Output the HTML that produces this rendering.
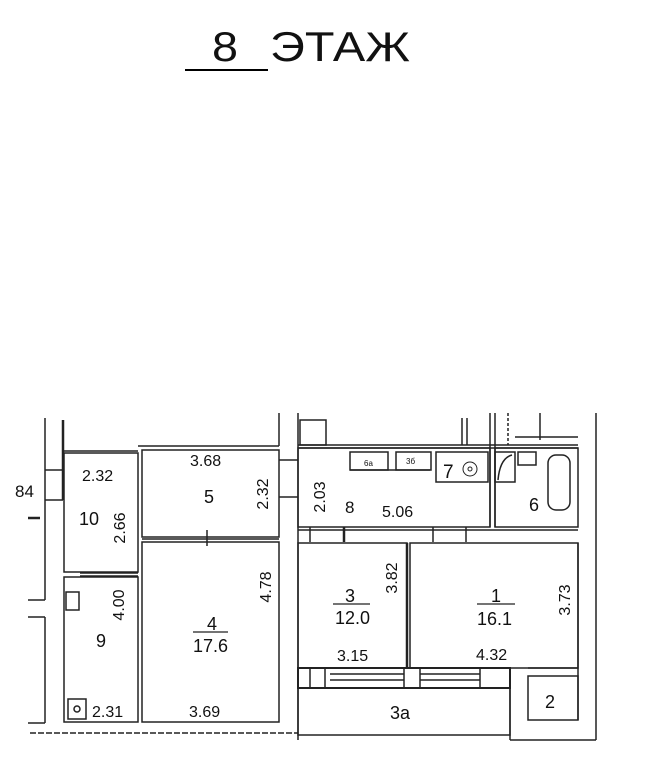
<!DOCTYPE html>
<html><head><meta charset="utf-8"><style>
html,body{margin:0;padding:0;background:#fff;}
svg{display:block;}
text{font-family:"Liberation Sans",sans-serif;fill:#111;}
</style></head><body>
<svg width="657" height="768" viewBox="0 0 657 768" xmlns="http://www.w3.org/2000/svg">
<!-- title -->
<text x="212" y="61" font-size="42" textLength="26" lengthAdjust="spacingAndGlyphs">8</text>
<text x="270" y="61" font-size="42" textLength="140" lengthAdjust="spacingAndGlyphs">ЭТАЖ</text>
<line x1="185" y1="70" x2="268" y2="70" stroke="#000" stroke-width="2"/>

<g fill="none" stroke="#222" stroke-width="1.5">
<line x1="45" y1="418" x2="45" y2="600"/>
<line x1="28" y1="600" x2="45" y2="600"/>
<line x1="45" y1="617" x2="45" y2="723"/>
<line x1="28" y1="617" x2="45" y2="617"/>
<line x1="28" y1="723" x2="45" y2="723"/>
<line x1="63" y1="420" x2="63" y2="500" stroke-width="2.5"/>
<line x1="45" y1="470" x2="63" y2="470"/>
<line x1="45" y1="500" x2="63" y2="500"/>
<line x1="28" y1="518" x2="40" y2="518" stroke-width="2.5"/>
<rect x="64" y="453" width="74" height="119"/>
<line x1="64" y1="451" x2="138" y2="451"/>
<rect x="64" y="577" width="74" height="145"/>
<line x1="80" y1="573" x2="138" y2="573"/>
<line x1="80" y1="576" x2="138" y2="576"/>
<rect x="66" y="592" width="13" height="18"/>
<rect x="68" y="699" width="18" height="20"/>
<circle cx="77" cy="709" r="3"/>
<line x1="138" y1="446" x2="279" y2="446"/>
<rect x="142" y="450" width="137" height="87"/>
<rect x="142" y="542" width="137" height="180"/>
<line x1="142" y1="539" x2="279" y2="539"/>
<line x1="207" y1="530" x2="207" y2="546"/>
<line x1="279" y1="460" x2="298" y2="460"/>
<line x1="279" y1="497" x2="298" y2="497"/>
<line x1="279" y1="413" x2="279" y2="446"/>
<line x1="30" y1="733" x2="298" y2="733" stroke-dasharray="6 2"/>
<line x1="298" y1="413" x2="298" y2="740"/>
<line x1="298" y1="445" x2="578" y2="445"/>
<line x1="298" y1="448" x2="578" y2="448"/>
<rect x="300" y="420" width="26" height="25"/>
<line x1="462" y1="418" x2="462" y2="445"/>
<line x1="467" y1="418" x2="467" y2="445"/>
<line x1="490" y1="413" x2="490" y2="527"/>
<line x1="495" y1="413" x2="495" y2="527"/>
<line x1="508" y1="413" x2="508" y2="445" stroke-dasharray="3 2"/>
<line x1="540" y1="413" x2="540" y2="440"/>
<line x1="515" y1="437" x2="578" y2="437"/>
<rect x="298" y="448" width="192" height="79"/>
<rect x="350" y="452" width="38" height="18"/>
<rect x="396" y="452" width="35" height="18"/>
<line x1="350" y1="470" x2="430" y2="470"/>
<rect x="436" y="452" width="52" height="30"/>
<rect x="495" y="452" width="20" height="30"/>
<path d="M498 480 Q500 458 512 455"/>
<rect x="495" y="448" width="83" height="79"/>
<rect x="518" y="452" width="18" height="13"/>
<rect x="548" y="455" width="22" height="55" rx="8"/>
<line x1="298" y1="530" x2="578" y2="530"/>
<line x1="344" y1="527" x2="344" y2="542" stroke-width="2.5"/>
<line x1="310" y1="527" x2="310" y2="542"/>
<line x1="433" y1="527" x2="433" y2="542"/>
<line x1="466" y1="527" x2="466" y2="542"/>
<rect x="298" y="543" width="109" height="125"/>
<rect x="410" y="543" width="168" height="125"/>
<line x1="407" y1="543" x2="407" y2="668" stroke-width="2.5"/>
<rect x="298" y="668" width="212" height="20" stroke-width="2"/>
<line x1="330" y1="674" x2="404" y2="674"/>
<line x1="330" y1="680" x2="404" y2="680"/>
<line x1="420" y1="674" x2="480" y2="674"/>
<line x1="420" y1="680" x2="480" y2="680"/>
<line x1="310" y1="668" x2="310" y2="688"/>
<line x1="325" y1="668" x2="325" y2="688"/>
<line x1="404" y1="668" x2="404" y2="688"/>
<line x1="420" y1="668" x2="420" y2="688"/>
<line x1="480" y1="668" x2="480" y2="688"/>
<rect x="298" y="688" width="212" height="47"/>
<line x1="510" y1="688" x2="510" y2="740"/>
<line x1="510" y1="740" x2="596" y2="740"/>
<rect x="528" y="676" width="50" height="44"/>
<line x1="528" y1="668" x2="578" y2="668"/>
<line x1="578" y1="543" x2="578" y2="720"/>
<line x1="596" y1="413" x2="596" y2="740"/>
</g>

<g font-size="16">
<text x="82" y="481">2.32</text>
<text x="79" y="525" font-size="18">10</text>
<text x="125" y="528" transform="rotate(-90 125 528)" text-anchor="middle">2.66</text>
<text x="190" y="466">3.68</text>
<text x="204" y="503" font-size="18">5</text>
<text x="268" y="494" transform="rotate(-90 268 494)" text-anchor="middle">2.32</text>
<text x="271" y="587" transform="rotate(-90 271 587)" text-anchor="middle">4.78</text>
<text x="207" y="630" font-size="18">4</text>
<line x1="193" y1="632" x2="228" y2="632" stroke="#222" stroke-width="1.2"/>
<text x="193" y="652" font-size="18">17.6</text>
<text x="189" y="717">3.69</text>
<text x="124" y="605" transform="rotate(-90 124 605)" text-anchor="middle">4.00</text>
<text x="96" y="647" font-size="18">9</text>
<text x="92" y="717">2.31</text>
<text x="15" y="497" font-size="17">84</text>
<text x="325" y="497" transform="rotate(-90 325 497)" text-anchor="middle">2.03</text>
<text x="345" y="513" font-size="17">8</text>
<text x="382" y="517">5.06</text>
<text x="364" y="466" font-size="8">6a</text>
<text x="406" y="464" font-size="8">3б</text>
<text x="443" y="478" font-size="19">7</text>
<circle cx="470" cy="469" r="7" fill="none" stroke="#222"/>
<circle cx="470" cy="469" r="2" fill="none" stroke="#222"/>
<text x="529" y="511" font-size="18">6</text>
<text x="397" y="578" transform="rotate(-90 397 578)" text-anchor="middle">3.82</text>
<text x="345" y="602" font-size="18">3</text>
<line x1="333" y1="604" x2="370" y2="604" stroke="#222" stroke-width="1.2"/>
<text x="335" y="624" font-size="18">12.0</text>
<text x="337" y="661">3.15</text>
<text x="491" y="602" font-size="18">1</text>
<line x1="477" y1="604" x2="515" y2="604" stroke="#222" stroke-width="1.2"/>
<text x="477" y="625" font-size="18">16.1</text>
<text x="476" y="660">4.32</text>
<text x="570" y="600" transform="rotate(-90 570 600)" text-anchor="middle">3.73</text>
<text x="390" y="719" font-size="18">3a</text>
<text x="545" y="708" font-size="18">2</text>
</g>
</svg>
</body></html>
